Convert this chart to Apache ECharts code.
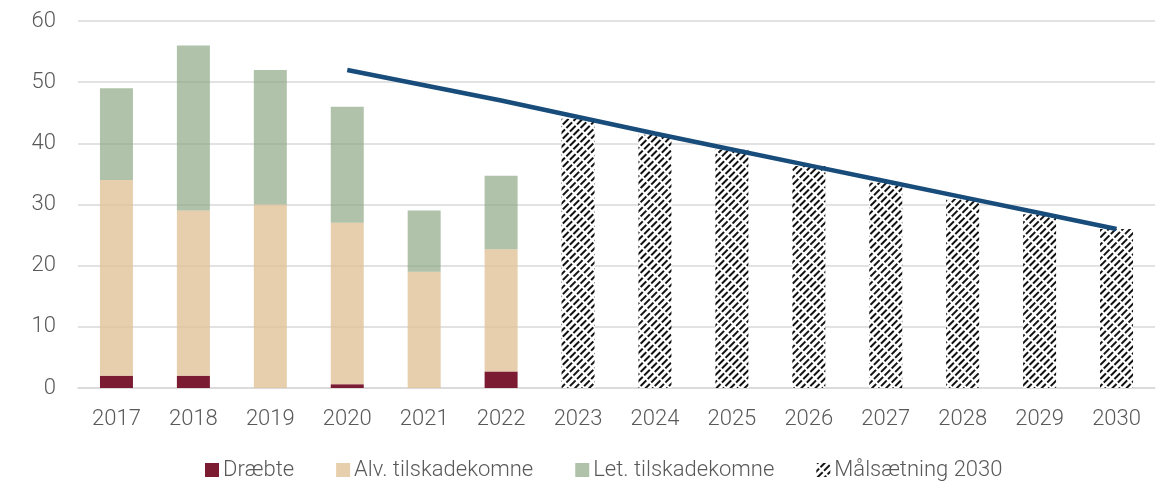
<!DOCTYPE html>
<html>
<head>
<meta charset="utf-8">
<script src="https://cdn.jsdelivr.net/npm/echarts@6/dist/echarts.min.js"></script>
<style>
  html, body { margin: 0; padding: 0; background: #fff; }
  #chart { width: 1167px; height: 482px; }
</style>
</head>
<body>
<div id="chart"></div>
<script>
const years = ['2017','2018','2019','2020','2021','2022','2023','2024','2025','2026','2027','2028','2029','2030']
const draebte = [2, 2, 0, 0.6, 0, 2.7, '-', '-', '-', '-', '-', '-', '-', '-']
const alvorlig = [32, 27, 30, 26.4, 19, 20, '-', '-', '-', '-', '-', '-', '-', '-']
const let_ = [15, 27, 22, 19, 10, 12, '-', '-', '-', '-', '-', '-', '-', '-']
const maal = ['-', '-', '-', '-', '-', '-', 44, 41.4, 39, 36.3, 33.6, 30.9, 28.4, 26]
const maalLinje = ['-', '-', '-', 52, 49.5, 47, 44.3, 41.6, 39, 36.4, 33.8, 31.2, 28.6, 26]

const chart = echarts.init(document.getElementById('chart'))
const font = 'Roboto'
const gray = '#595959'

chart.setOption({
  animation: false,
  textStyle: { fontFamily: font },
  grid: { left: 78, right: 12, top: 21, bottom: 94 },
  legend: {
    top: 454,
    left: 200,
    icon: 'rect',
    itemWidth: 14,
    itemHeight: 14,
    itemGap: 42,
    data: ['Dræbte', 'Alv. tilskadekomne', 'Let. tilskadekomne', 'Målsætning 2030'],
    textStyle: { color: gray, fontSize: 22, fontWeight: 300, fontFamily: font, padding: [0, 0, 0, -1] }
  },
  xAxis: {
    type: 'category',
    data: years,
    axisTick: { show: false },
    axisLine: { lineStyle: { color: '#d9d9d9', width: 1.5 } },
    axisLabel: { color: gray, fontSize: 22, fontWeight: 300, margin: 20 }
  },
  yAxis: {
    type: 'value',
    min: 0,
    max: 60,
    interval: 10,
    axisLabel: { color: gray, fontSize: 22, fontWeight: 300, margin: 22 },
    splitLine: { lineStyle: { color: '#d9d9d9', width: 1.5 } }
  },
  series: [
    {
      name: 'Dræbte', type: 'bar', stack: 'a', barWidth: 33,
      itemStyle: { color: '#7b1c33' },
      data: draebte
    },
    {
      name: 'Alv. tilskadekomne', type: 'bar', stack: 'a',
      itemStyle: { color: 'rgba(226,195,155,0.82)' },
      data: alvorlig
    },
    {
      name: 'Let. tilskadekomne', type: 'bar', stack: 'a',
      itemStyle: { color: 'rgba(143,168,134,0.7)' },
      data: let_
    },
    {
      name: 'Målsætning 2030', type: 'bar', stack: 'a',
      itemStyle: {
        color: '#ffffff',
        decal: {
          symbol: 'rect',
          color: '#111',
          dashArrayX: [8, 1.5],
          dashArrayY: [1.4, 2.6],
          rotation: -Math.PI / 4
        }
      },
      data: maal
    },
    {
      name: 'linje', type: 'line',
      symbol: 'none',
      lineStyle: { color: '#184c7a', width: 4.5 },
      data: maalLinje
    }
  ]
})

window.addEventListener('resize', () => {
  chart.resize()
})
</script>
</body>
</html>
